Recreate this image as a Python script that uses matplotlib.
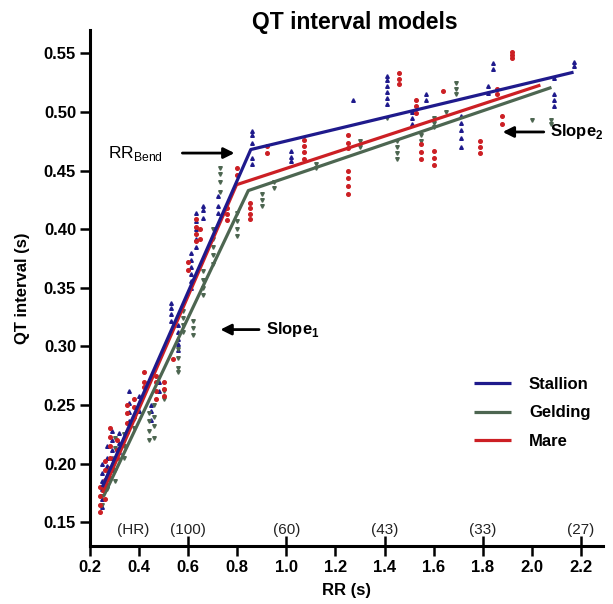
import matplotlib
matplotlib.use("Agg")
import matplotlib.pyplot as plt
import numpy as np

plt.rcParams['font.family'] = ['Liberation Sans', 'DejaVu Sans']
plt.rcParams['mathtext.fontset'] = 'custom'
plt.rcParams['mathtext.rm'] = 'Liberation Sans'
plt.rcParams['mathtext.bf'] = 'Liberation Sans:bold'

# measured points, grouped in columns of equal RR (s) -> QT (s)
stallion_rr = [0.25, 0.27, 0.29, 0.32, 0.36, 0.40, 0.45, 0.48, 0.53, 0.56,
               0.61, 0.63, 0.66, 0.72, 0.86, 1.02, 1.27, 1.41, 1.51, 1.57,
               1.71, 1.82, 1.84, 2.09, 2.17]
stallion_qt = [[0.163, 0.170, 0.178, 0.185, 0.192, 0.200],
               [0.182, 0.190, 0.198, 0.205, 0.215],
               [0.195, 0.205, 0.212, 0.220, 0.228],
               [0.210, 0.218, 0.226],
               [0.236, 0.244, 0.252, 0.262],
               [0.245, 0.252, 0.258],
               [0.237, 0.245, 0.250],
               [0.262, 0.270],
               [0.322, 0.328, 0.333, 0.337],
               [0.297, 0.302, 0.306, 0.312, 0.318],
               [0.350, 0.356, 0.362, 0.368, 0.374, 0.380],
               [0.385, 0.392, 0.400, 0.407, 0.414],
               [0.410, 0.416, 0.420],
               [0.414, 0.420, 0.428],
               [0.456, 0.461, 0.474, 0.480, 0.484],
               [0.458, 0.462, 0.467],
               [0.510],
               [0.507, 0.512, 0.517, 0.522, 0.527, 0.531],
               [0.490, 0.495, 0.500],
               [0.510, 0.515],
               [0.470, 0.478, 0.485, 0.491, 0.497],
               [0.516, 0.522],
               [0.537, 0.542],
               [0.505, 0.510, 0.515, 0.529],
               [0.539, 0.543]]

gelding_rr = [0.25, 0.27, 0.30, 0.34, 0.38, 0.44, 0.46, 0.50, 0.56, 0.58,
              0.62, 0.66, 0.70, 0.73, 0.80, 0.90, 0.95, 1.12, 1.30, 1.41,
              1.45, 1.55, 1.60, 1.65, 1.69, 2.00, 2.08]
gelding_qt = [[0.165, 0.172],
              [0.178, 0.186, 0.194],
              [0.185, 0.195, 0.205, 0.213, 0.222],
              [0.205, 0.215, 0.225],
              [0.230, 0.238],
              [0.220, 0.228, 0.236, 0.243],
              [0.222, 0.232, 0.240, 0.250],
              [0.255, 0.262],
              [0.278, 0.282, 0.290, 0.298],
              [0.312, 0.318, 0.324, 0.330],
              [0.310, 0.316, 0.322],
              [0.344, 0.350, 0.357, 0.364],
              [0.370, 0.378, 0.385, 0.392, 0.400],
              [0.432, 0.440, 0.447, 0.452],
              [0.394, 0.400, 0.407, 0.414],
              [0.420, 0.425, 0.430],
              [0.435, 0.440],
              [0.452, 0.456],
              [0.470, 0.475],
              [0.495],
              [0.460, 0.465, 0.470, 0.475],
              [0.475, 0.480],
              [0.487, 0.491, 0.495],
              [0.500],
              [0.515, 0.520, 0.525],
              [0.493],
              [0.490, 0.493]]

mare_rr = [0.24, 0.26, 0.28, 0.31, 0.35, 0.38, 0.42, 0.47, 0.50, 0.54,
           0.60, 0.63, 0.65, 0.76, 0.80, 0.85, 0.92, 1.07, 1.25, 1.46,
           1.53, 1.55, 1.60, 1.64, 1.79, 1.86, 1.88, 1.92]
mare_qt = [[0.159, 0.165, 0.172, 0.180],
           [0.170, 0.178, 0.186, 0.195, 0.202],
           [0.188, 0.196, 0.205, 0.215, 0.223, 0.230],
           [0.205, 0.212, 0.220],
           [0.227, 0.235, 0.243, 0.250],
           [0.240, 0.248, 0.255],
           [0.265, 0.270, 0.278],
           [0.255, 0.262, 0.270, 0.275],
           [0.258, 0.264, 0.270],
           [0.289],
           [0.365, 0.372],
           [0.390, 0.396, 0.402, 0.409],
           [0.392, 0.400],
           [0.408, 0.413, 0.418],
           [0.446, 0.452],
           [0.409, 0.413, 0.418, 0.422],
           [0.465, 0.471],
           [0.460, 0.466, 0.471, 0.476],
           [0.430, 0.437, 0.444, 0.450, 0.469, 0.474, 0.480],
           [0.524, 0.528, 0.533],
           [0.499, 0.505, 0.510],
           [0.460, 0.466, 0.473],
           [0.455, 0.461, 0.467],
           [0.518],
           [0.465, 0.470, 0.475],
           [0.515, 0.520],
           [0.490, 0.497],
           [0.546, 0.549, 0.551]]

# two-segment model fits (start, RR bend, end)
stallion_fit_rr = [0.25, 0.855, 2.17]
stallion_fit_qt = [0.180, 0.468, 0.534]
gelding_fit_rr = [0.255, 0.845, 2.08]
gelding_fit_qt = [0.172, 0.433, 0.521]
mare_fit_rr = [0.25, 0.797, 2.035]
mare_fit_qt = [0.175, 0.438, 0.523]

groups = ['Stallion', 'Gelding', 'Mare']
colors = {'Stallion': '#1f1a8c', 'Gelding': '#4d6651', 'Mare': '#cc1f24'}
markers = {'Stallion': '^', 'Gelding': 'v', 'Mare': 'o'}

xticks = [0.2, 0.4, 0.6, 0.8, 1.0, 1.2, 1.4, 1.6, 1.8, 2.0, 2.2]
yticks = [0.15, 0.20, 0.25, 0.30, 0.35, 0.40, 0.45, 0.50, 0.55]
hr_rr = [0.375, 0.6, 1.0, 1.4, 1.8, 2.2]
hr_labels = ['(HR)', '(100)', '(60)', '(43)', '(33)', '(27)']


def expand(rr, qt):
    x = np.concatenate([[r] * len(q) for r, q in zip(rr, qt)])
    y = np.concatenate(qt)
    return x, y


fig = plt.figure(figsize=(6.13, 6.04), dpi=100)
ax = fig.add_axes([90 / 613, 1 - 545.7 / 604, 513 / 613, 515.7 / 604])

pts = {'Stallion': expand(stallion_rr, stallion_qt),
       'Gelding': expand(gelding_rr, gelding_qt),
       'Mare': expand(mare_rr, mare_qt)}
fits = {'Stallion': (stallion_fit_rr, stallion_fit_qt),
        'Gelding': (gelding_fit_rr, gelding_fit_qt),
        'Mare': (mare_fit_rr, mare_fit_qt)}

for g in groups:
    x, y = pts[g]
    ax.plot(x, y, ls='none', marker=markers[g], ms=2.6, color=colors[g],
            mec=colors[g], zorder=2)

lines = {}
for g in ['Gelding', 'Mare', 'Stallion']:
    fx, fy = fits[g]
    lines[g], = ax.plot(fx, fy, color=colors[g], lw=2.3, zorder=3,
                        solid_capstyle='butt', label=g)

ax.set_xlim(0.2, 2.29)
ax.set_ylim(0.13, 0.57)
ax.set_xticks(xticks)
ax.set_xticklabels([f'{v:.1f}' for v in xticks])
ax.set_yticks(yticks)
ax.set_yticklabels([f'{v:.2f}' for v in yticks])
ax.set_xticks(hr_rr[1:], minor=True)
ax.xaxis.remove_overlapping_locs = False

for s in ['top', 'right']:
    ax.spines[s].set_visible(False)
for s in ['left', 'bottom']:
    ax.spines[s].set_linewidth(2.2)

ax.tick_params(which='major', direction='out', length=7, width=1.8,
               labelsize=12, pad=3)
ax.tick_params(axis='x', which='minor', direction='in', length=7, width=1.8)
ax.tick_params(axis='y', which='minor', left=False)
for lbl in ax.get_xticklabels() + ax.get_yticklabels():
    lbl.set_fontweight('bold')

for r, t in zip(hr_rr, hr_labels):
    ax.text(r, 0.1437, t, ha='center', va='center', fontsize=11,
            color='#222222')

ax.set_xlabel('RR (s)', fontsize=12, fontweight='bold', labelpad=6)
ax.set_ylabel('QT interval (s)', fontsize=12, fontweight='bold', labelpad=10)
fig.text(355 / 613, 1 - 23 / 604, 'QT interval models', ha='center',
         va='center', fontsize=16.5, fontweight='bold')

arrow = dict(arrowstyle='-|>', color='black', lw=2, mutation_scale=16)
ax.annotate('', xy=(0.80, 0.465), xytext=(0.565, 0.465), arrowprops=arrow)
ax.text(0.275, 0.465, r'RR$_{\mathrm{Bend}}$', ha='left', va='center',
        fontsize=12.5)
ax.annotate('', xy=(0.72, 0.3144), xytext=(0.90, 0.3144), arrowprops=arrow)
ax.text(0.915, 0.3144, r'Slope$_{\mathbf{1}}$', ha='left', va='center',
        fontsize=12, fontweight='bold')
ax.annotate('', xy=(1.87, 0.483), xytext=(2.06, 0.483), arrowprops=arrow)
ax.text(2.075, 0.483, r'Slope$_{\mathbf{2}}$', ha='left', va='center',
        fontsize=12, fontweight='bold')

leg = ax.legend([lines['Stallion'], lines['Gelding'], lines['Mare']],
                ['Stallion', 'Gelding', 'Mare'], loc='upper left',
                bbox_to_anchor=(474 / 613, 1 - 377 / 604),
                bbox_transform=fig.transFigure, frameon=False,
                fontsize=12, handlelength=2.2, handletextpad=1.1,
                labelspacing=0.8, borderpad=0, borderaxespad=0)
for t in leg.get_texts():
    t.set_fontweight('bold')

fig.savefig('out.png', dpi=100)
